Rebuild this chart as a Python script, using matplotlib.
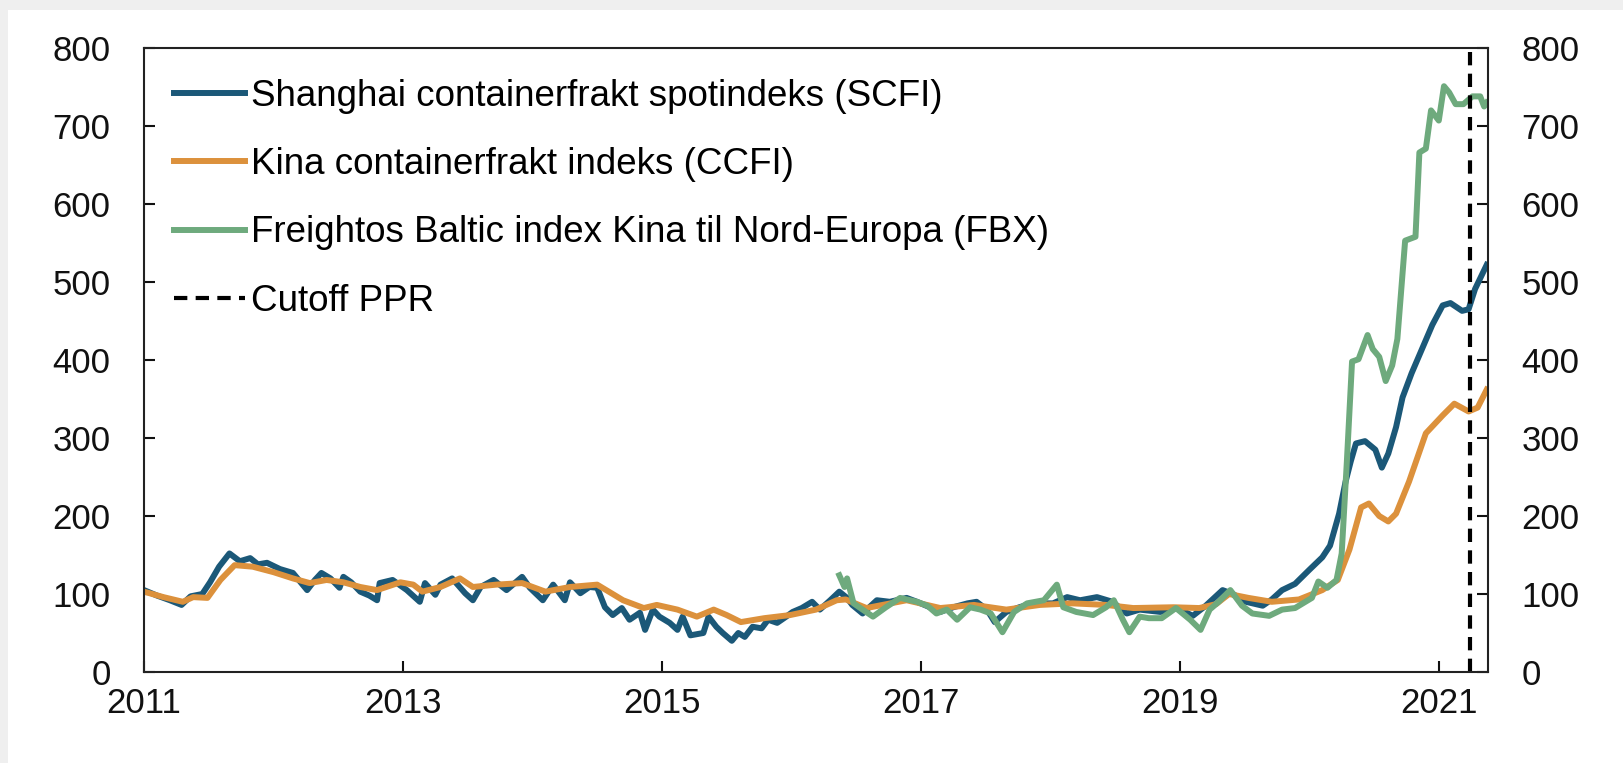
import matplotlib
matplotlib.use("Agg")
import matplotlib.pyplot as plt
from matplotlib.patches import Rectangle

plt.rcParams['font.family'] = ['Liberation Sans', 'DejaVu Sans']

# ---- data ----
scfi_t = [2011.00, 2011.10, 2011.20, 2011.29, 2011.36, 2011.45, 2011.51, 2011.58, 2011.66, 2011.74,
          2011.82, 2011.88, 2011.95, 2012.05, 2012.15, 2012.26, 2012.32, 2012.37, 2012.44, 2012.51,
          2012.54, 2012.60, 2012.67, 2012.74, 2012.80, 2012.82, 2012.92, 2013.03, 2013.13, 2013.17,
          2013.25, 2013.29, 2013.38, 2013.48, 2013.54, 2013.60, 2013.70, 2013.80, 2013.92, 2013.98,
          2014.08, 2014.16, 2014.25, 2014.29, 2014.37, 2014.44, 2014.50, 2014.56, 2014.62, 2014.69,
          2014.75, 2014.83, 2014.87, 2014.93, 2014.98, 2015.06, 2015.12, 2015.16, 2015.22, 2015.32,
          2015.36, 2015.42, 2015.47, 2015.54, 2015.59, 2015.64, 2015.70, 2015.77, 2015.82, 2015.89,
          2015.96, 2016.01, 2016.08, 2016.16, 2016.22, 2016.30, 2016.37, 2016.43, 2016.47, 2016.55,
          2016.66, 2016.76, 2016.89, 2016.97, 2017.07, 2017.15, 2017.25, 2017.36, 2017.43, 2017.51,
          2017.57, 2017.66, 2017.76, 2017.86, 2018.02, 2018.13, 2018.23, 2018.36, 2018.48, 2018.59,
          2018.69, 2018.85, 2018.98, 2019.10, 2019.20, 2019.33, 2019.41, 2019.51, 2019.64, 2019.71,
          2019.79, 2019.89, 2020.00, 2020.10, 2020.16, 2020.23, 2020.28, 2020.32, 2020.36, 2020.43,
          2020.51, 2020.56, 2020.61, 2020.67, 2020.72, 2020.79, 2020.87, 2020.95, 2021.03, 2021.09,
          2021.18, 2021.23, 2021.28, 2021.37]
scfi_v = [105, 98, 92, 86, 97, 100, 115, 135, 152, 142,
          146, 138, 140, 132, 127, 105, 118, 127, 120, 108,
          122, 115, 103, 98, 92, 114, 118, 105, 90, 114,
          99, 112, 120, 101, 92, 109, 118, 105, 122, 108,
          92, 112, 92, 115, 101, 109, 108, 83, 73, 82,
          67, 76, 54, 80, 71, 63, 54, 71, 47, 50,
          71, 58, 50, 40, 50, 45, 58, 56, 67, 63,
          71, 77, 82, 90, 80, 92, 103, 95, 86, 75,
          92, 90, 95, 90, 83, 77, 83, 88, 90, 80,
          64, 77, 83, 88, 88, 96, 92, 96, 90, 75,
          80, 77, 82, 72, 85, 105, 100, 90, 85, 93,
          105, 113, 131, 147, 162, 203, 244, 270, 293, 296,
          285, 262, 280, 314, 352, 383, 414, 445, 470, 473,
          463, 465, 491, 522]

ccfi_t = [2011.00, 2011.15, 2011.30, 2011.38, 2011.49, 2011.59, 2011.70, 2011.84, 2012.00, 2012.15,
          2012.28, 2012.41, 2012.54, 2012.67, 2012.80, 2012.98, 2013.08, 2013.15, 2013.29, 2013.44,
          2013.54, 2013.72, 2013.92, 2014.10, 2014.29, 2014.50, 2014.70, 2014.86, 2014.96, 2015.12,
          2015.27, 2015.40, 2015.50, 2015.61, 2015.79, 2015.99, 2016.19, 2016.35, 2016.42, 2016.58,
          2016.89, 2017.15, 2017.41, 2017.66, 2017.92, 2018.17, 2018.43, 2018.64, 2018.95, 2019.15,
          2019.28, 2019.38, 2019.53, 2019.71, 2019.92, 2020.10, 2020.22, 2020.31, 2020.40, 2020.46,
          2020.54, 2020.61, 2020.67, 2020.77, 2020.90, 2021.03, 2021.12, 2021.23, 2021.30, 2021.37]
ccfi_v = [103, 96, 90, 96, 95, 118, 137, 135, 128, 120,
          114, 118, 115, 109, 105, 115, 112, 103, 109, 120,
          109, 112, 114, 103, 109, 112, 92, 82, 86, 80,
          71, 80, 73, 64, 69, 73, 80, 92, 93, 82,
          92, 82, 86, 80, 86, 88, 86, 82, 83, 82,
          87, 100, 95, 90, 93, 105, 118, 157, 211, 216,
          200, 193, 203, 244, 306, 329, 344, 334, 339, 362]

fbx_t = [2016.37, 2016.41, 2016.43, 2016.48, 2016.55, 2016.63, 2016.73, 2016.84, 2016.97, 2017.05,
         2017.12, 2017.20, 2017.28, 2017.38, 2017.46, 2017.54, 2017.63, 2017.72, 2017.82, 2017.95,
         2018.05, 2018.10, 2018.20, 2018.33, 2018.43, 2018.49, 2018.56, 2018.61, 2018.69, 2018.76,
         2018.86, 2018.97, 2019.08, 2019.16, 2019.23, 2019.30, 2019.39, 2019.48, 2019.56, 2019.69,
         2019.79, 2019.89, 2020.02, 2020.07, 2020.14, 2020.21, 2020.25, 2020.29, 2020.33, 2020.38,
         2020.45, 2020.49, 2020.54, 2020.59, 2020.64, 2020.68, 2020.74, 2020.82, 2020.85, 2020.90,
         2020.94, 2021.00, 2021.04, 2021.08, 2021.13, 2021.19, 2021.26, 2021.32, 2021.35, 2021.37]
fbx_v = [124, 109, 120, 88, 80, 71, 83, 95, 90, 85,
         75, 80, 67, 83, 80, 75, 51, 77, 88, 92,
         112, 83, 77, 73, 83, 92, 67, 51, 71, 69,
         69, 82, 67, 54, 80, 90, 105, 85, 75, 72,
         80, 82, 95, 116, 108, 118, 152, 270, 398, 401,
         432, 414, 404, 373, 393, 427, 553, 558, 666, 671,
         720, 707, 751, 743, 728, 728, 738, 738, 725, 730]

cutoff = 2021.24
labels = ["Shanghai containerfrakt spotindeks (SCFI)",
          "Kina containerfrakt indeks (CCFI)",
          "Freightos Baltic index Kina til Nord-Europa (FBX)",
          "Cutoff PPR"]
xticks = [2011, 2013, 2015, 2017, 2019, 2021]
yticks = [0, 100, 200, 300, 400, 500, 600, 700, 800]

# ---- figure ----
W, H = 1623, 763
fig = plt.figure(figsize=(W / 100, H / 100), dpi=100)
fig.patch.set_facecolor('#efefef')
fig.patches.append(Rectangle((8 / W, 0), 1, 1 - 10 / H, transform=fig.transFigure,
                             facecolor='white', edgecolor='none', zorder=-10))

ax = fig.add_axes([144 / W, (H - 672) / H, (1488 - 144) / W, (672 - 48) / H])
ax.patch.set_alpha(0)

lw = 4.3
ax.plot(scfi_t, scfi_v, color='#1b5878', lw=lw, label=labels[0], solid_joinstyle='round')
ax.plot(ccfi_t, ccfi_v, color='#dc913c', lw=lw, label=labels[1], solid_joinstyle='round')
ax.plot(fbx_t, fbx_v, color='#6eaa7d', lw=lw, label=labels[2], solid_joinstyle='round')
ax.axvline(cutoff, color='black', lw=3.0, ls=(0, (3.2, 2.0)), label=labels[3])

ax.set_xlim(2011, 2021.38)
ax.set_ylim(0, 800)
ax.set_xticks(xticks)
ax.set_xticklabels([str(t) for t in xticks])
ax.set_yticks(yticks)
ax.set_yticklabels([str(t) for t in yticks])

for s in ax.spines.values():
    s.set_linewidth(1.5)
    s.set_color('#222222')

ax.tick_params(axis='y', direction='in', length=8, width=1.5, labelsize=25, pad=24,
               right=True, labelright=True, colors='#111111')
ax.tick_params(axis='x', direction='in', length=8, width=1.5, labelsize=25, pad=11,
               colors='#111111')

leg = ax.legend(loc='upper left', bbox_to_anchor=(0.022, 0.950), frameon=False,
                fontsize=26.5, handlelength=1.95, handletextpad=0.15, labelspacing=0.9,
                borderpad=0, borderaxespad=0)

fig.savefig('out.png', dpi=100, facecolor=fig.get_facecolor())
